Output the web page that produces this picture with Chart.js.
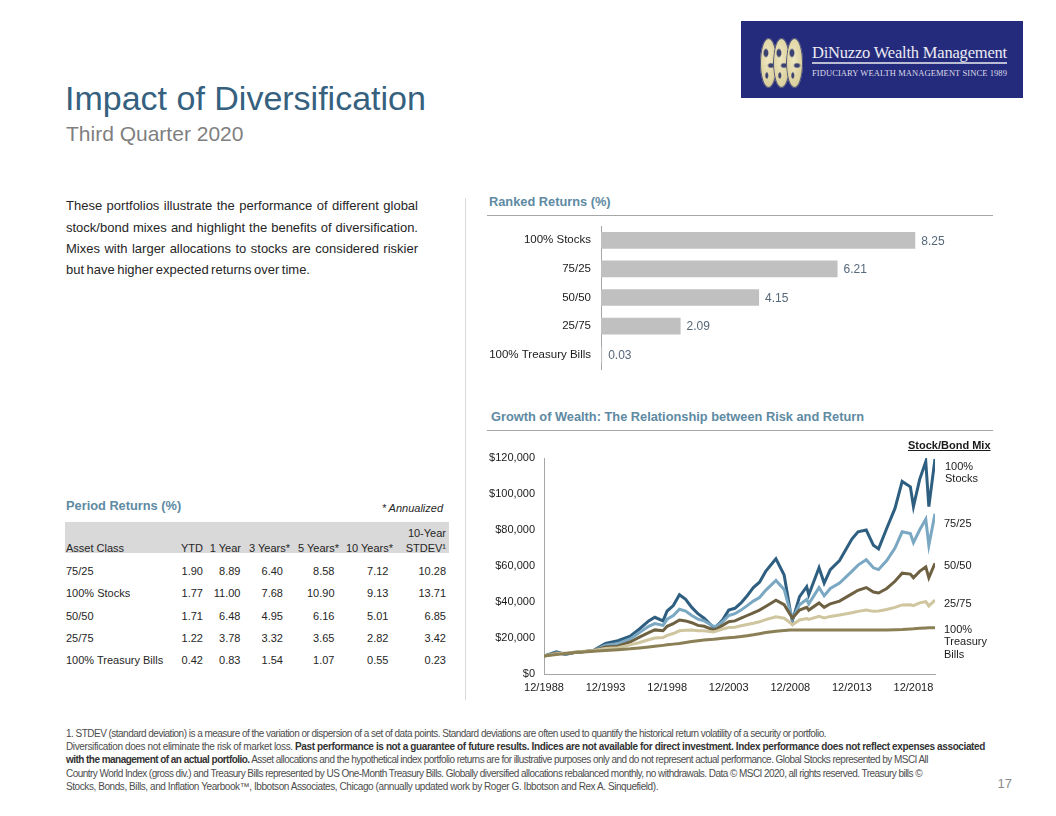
<!DOCTYPE html>
<html><head><meta charset="utf-8">
<script src="https://cdn.jsdelivr.net/npm/chart.js@4.4.1/dist/chart.umd.min.js"></script>
<style>
html,body{margin:0;padding:0;background:#fff;}
body{width:1056px;height:816px;position:relative;overflow:hidden;font-family:"Liberation Sans",Arial,sans-serif;color:#262626;}
.abs{position:absolute;white-space:nowrap;}
.hdr{font-weight:bold;font-size:12.8px;line-height:16px;color:#5e8aa3;}
.rule{position:absolute;height:1px;background:#a6a6a6;}
.tcell{position:absolute;white-space:nowrap;font-size:11px;line-height:14px;color:#262626;}
.glabel{position:absolute;white-space:nowrap;font-size:11px;line-height:12.7px;color:#1a1a1a;}
.globe{position:absolute;top:38px;width:17px;height:50px;border-radius:50%;
 background:
  radial-gradient(ellipse 3px 5px at 35% 30%,#3b4170 0,#3b4170 60%,transparent 100%),
  radial-gradient(ellipse 4px 3px at 65% 55%,#3b4170 0,#3b4170 50%,transparent 100%),
  radial-gradient(ellipse 2px 4px at 40% 75%,#3b4170 0,#3b4170 50%,transparent 100%),
  radial-gradient(ellipse at 45% 40%,#efe7c0 0%,#ddd2a0 60%,#b9ae82 100%);
 box-shadow:inset 0 0 0 1px #4a4f7a;}
.fn{position:absolute;white-space:nowrap;font-size:10px;line-height:13.25px;color:#4d4d4d;}
.fn b{color:#333;}
</style></head><body>

<!-- logo -->
<div class="abs" style="left:741px;top:21px;width:282px;height:77px;background:#252b7c;"></div>
<div class="globe" style="left:760px;"></div>
<div class="globe" style="left:773px;"></div>
<div class="globe" style="left:786px;"></div>
<div id="logoT" class="abs" style="left:812px;top:43px;font-family:'Liberation Serif',serif;font-size:16.5px;line-height:20px;color:#ecebf3;">DiNuzzo Wealth Management</div>
<div class="abs" style="left:812px;top:62px;width:195px;height:2px;background:#b9bcd3;"></div>
<div id="logoS" class="abs" style="left:812px;top:68px;font-family:'Liberation Serif',serif;font-size:8.5px;line-height:10px;color:#dcdcea;">FIDUCIARY WEALTH MANAGEMENT SINCE 1989</div>

<!-- titles -->
<div class="abs" style="left:65px;top:81px;font-size:34px;line-height:34px;color:#35617f;">Impact of Diversification</div>
<div class="abs" style="left:66px;top:123px;font-size:21px;line-height:21px;color:#7f7f7f;">Third Quarter 2020</div>

<!-- paragraph -->
<div id="p1" class="abs" style="left:66px;top:195.4px;font-size:13px;line-height:21.2px;">These portfolios illustrate the performance of different global</div>
<div id="p2" class="abs" style="left:66px;top:216.6px;font-size:13px;line-height:21.2px;">stock/bond mixes and highlight the benefits of diversification.</div>
<div id="p3" class="abs" style="left:66px;top:237.8px;font-size:13px;line-height:21.2px;">Mixes with larger allocations to stocks are considered riskier</div>
<div id="p4" class="abs" style="left:66px;top:259px;font-size:13px;line-height:21.2px;">but have higher expected returns over time.</div>

<!-- divider -->
<div class="abs" style="left:465px;top:198px;width:1px;height:502px;background:#d9d9d9;"></div>

<!-- ranked returns -->
<div class="abs hdr" style="left:489px;top:193.7px;">Ranked Returns (%)</div>
<div class="rule" style="left:487px;top:215px;width:506px;"></div>
<canvas id="bar" width="533" height="177" style="position:absolute;left:487px;top:209px;width:533px;height:177px;"></canvas>

<!-- growth -->
<div class="abs hdr" style="left:491px;top:408.7px;">Growth of Wealth: The Relationship between Risk and Return</div>
<div class="rule" style="left:487px;top:430px;width:506px;"></div>
<canvas id="growth" width="470" height="260" style="position:absolute;left:487px;top:440px;width:470px;height:260px;"></canvas>
<div class="glabel" style="left:908px;top:438.5px;font-weight:bold;text-decoration:underline;">Stock/Bond Mix</div>
<div class="glabel" style="left:945px;top:459.5px;">100%<br>Stocks</div>
<div class="glabel" style="left:944px;top:516.5px;">75/25</div>
<div class="glabel" style="left:944px;top:558.5px;">50/50</div>
<div class="glabel" style="left:944px;top:596.5px;">25/75</div>
<div class="glabel" style="left:944px;top:622.5px;">100%<br>Treasury<br>Bills</div>

<!-- period returns -->
<div class="abs hdr" style="left:66px;top:498px;">Period Returns (%)</div>
<div class="abs" style="right:613px;top:500.7px;font-size:11px;line-height:14px;font-style:italic;color:#262626;">* Annualized</div>
<div class="abs" style="left:65px;top:522px;width:384px;height:31px;background:#d9d9d9;"></div>
<div id="table"></div>

<!-- footnotes -->
<div id="f1" class="fn" style="left:66px;top:726.8px;">1. STDEV (standard deviation) is a measure of the variation or dispersion of a set of data points. Standard deviations are often used to quantify the historical return volatility of a security or portfolio.</div>
<div id="f2" class="fn" style="left:66px;top:740.05px;">Diversification does not eliminate the risk of market loss. <b>Past performance is not a guarantee of future results. Indices are not available for direct investment. Index performance does not reflect expenses associated</b></div>
<div id="f3" class="fn" style="left:66px;top:753.3px;"><b>with the management of an actual portfolio.</b> Asset allocations and the hypothetical index portfolio returns are for illustrative purposes only and do not represent actual performance. Global Stocks represented by MSCI All</div>
<div id="f4" class="fn" style="left:66px;top:766.55px;">Country World Index (gross div.) and Treasury Bills represented by US One-Month Treasury Bills. Globally diversified allocations rebalanced monthly, no withdrawals. Data © MSCI 2020, all rights reserved. Treasury bills ©</div>
<div id="f5" class="fn" style="left:66px;top:779.8px;">Stocks, Bonds, Bills, and Inflation Yearbook™, Ibbotson Associates, Chicago (annually updated work by Roger G. Ibbotson and Rex A. Sinquefield).</div>
<div class="abs" style="right:44px;top:775.8px;font-size:13px;line-height:15px;color:#8c8c8c;">17</div>

<script>
// ---------- data ----------
const rankedLabels = ['100% Stocks', '75/25', '50/50', '25/75', '100% Treasury Bills'];
const rankedValues = [8.25, 6.21, 4.15, 2.09, 0.03];

const tableHeaders = ['Asset Class', 'YTD', '1 Year', '3 Years*', '5 Years*', '10 Years*', 'STDEV¹'];
const assetClasses = ['75/25', '100% Stocks', '50/50', '25/75', '100% Treasury Bills'];
const ytd        = [1.90, 1.77, 1.71, 1.22, 0.42];
const oneYear    = [8.89, 11.00, 6.48, 3.78, 0.83];
const threeYears = [6.40, 7.68, 4.95, 3.32, 1.54];
const fiveYears  = [8.58, 10.90, 6.16, 3.65, 1.07];
const tenYears   = [7.12, 9.13, 5.01, 2.82, 0.55];
const stdev10    = [10.28, 13.71, 6.85, 3.42, 0.23];

const growthDates = ['12/1988','12/1989','9/1990','6/1991','6/1992','12/1992','12/1993','12/1994','12/1995','9/1996',
  '6/1997','12/1997','8/1998','12/1998','6/1999','12/1999','6/2000','12/2000','6/2001','12/2001',
  '9/2002','12/2002','6/2003','12/2003','6/2004','12/2004','6/2005','12/2005','6/2006','12/2006',
  '10/2007','6/2008','12/2008','2/2009','9/2009','4/2010','6/2010','4/2011','9/2011','3/2012',
  '12/2012','12/2013','6/2014','2/2015','9/2015','2/2016','10/2016','6/2017','1/2018','9/2018',
  '12/2018','6/2019','12/2019','3/2020','9/2020'];
const stocks100 = [10000,12300,10800,12000,12600,13000,17000,18500,21000,25000,
  29500,31500,29500,35000,38000,44000,41500,37000,33500,31000,
  26000,26500,30000,35500,36500,39500,43500,48000,51000,57000,
  64000,55000,35000,29500,43000,48500,44000,59000,50500,58000,
  63000,75000,79000,80000,71500,69500,81000,92000,107000,104000,
  93000,108000,118000,93000,119500];
const mix7525 = [10000,11800,11000,12000,12600,12900,16000,16800,19500,23000,
  26500,28000,27000,30500,32500,36000,35000,32500,30500,29500,
  26500,26500,29000,32500,33500,35500,38000,40500,42500,46500,
  52000,47000,34500,30500,38500,41500,39000,48000,43500,47500,
  50500,57000,60500,63500,59000,58000,63000,70000,79000,78000,
  73000,80000,86000,71500,89000];
const mix5050 = [10000,11500,11300,12000,12700,13000,15000,15400,17800,20500,
  23000,24500,24000,26500,28000,30000,29500,28500,27000,26500,
  24500,25000,27000,29000,29500,31000,32500,34000,35500,37500,
  41000,38500,33000,31000,35500,37000,35500,39500,37000,39000,
  40500,44500,46500,48000,45500,45000,47500,51500,56000,55500,
  53500,57000,59500,53500,61500];
const mix2575 = [10000,11200,11600,12200,12800,13000,14200,14600,16200,17500,
  19000,20000,20300,21500,22500,24000,24300,24500,24000,24000,
  23300,23800,25000,25800,26000,26800,27500,28200,29000,30200,
  31800,31000,28500,27300,30000,30800,30300,32000,31200,32000,
  32800,34000,34800,35500,34800,35000,35800,37000,38400,38500,
  38000,39500,40200,37800,41000];
const tbills100 = [10000,10800,11400,11900,12400,12600,13000,13500,14000,14500,
  15000,15400,15900,16200,16600,17000,17500,18000,18500,18900,
  19300,19500,19800,20100,20400,20800,21300,21800,22400,23000,
  23800,24200,24400,24400,24400,24400,24400,24400,24400,24400,
  24400,24400,24400,24400,24400,24400,24500,24600,24700,25000,
  25100,25400,25600,25700,25700];
const xTickLabels = ['12/1988','12/1993','12/1998','12/2003','12/2008','12/2013','12/2018'];
const yTickMax = 120000, yTickStep = 20000;

// ---------- helpers ----------
const FONT = '"Liberation Sans", Arial, sans-serif';
Chart.defaults.font.family = FONT;
function toYear(s){ const [m,y] = s.split('/').map(Number); return y + (m-1)/12; }
function fit(id, target, mode){
  const el = document.getElementById(id);
  const w = el.getBoundingClientRect().width;
  const txt = el.textContent;
  if(mode === 'word'){
    const n = (txt.match(/ /g)||[]).length;
    if(n) el.style.wordSpacing = ((target - w)/n) + 'px';
  } else {
    el.style.letterSpacing = ((target - w)/txt.length) + 'px';
  }
}

// ---------- table ----------
(function(){
  const t = document.getElementById('table');
  const hdrRight = [null, 203, 241, 290, 339, 393, 446];
  const valRight = [null, 203, 240.5, 283, 334.5, 388.5, 446];
  const rowCenters = [571, 593, 615.5, 638, 660];
  const cols = [ytd, oneYear, threeYears, fiveYears, tenYears, stdev10];
  let html = '';
  html += `<div class="tcell" style="left:66px;top:540.7px;">${tableHeaders[0]}</div>`;
  for(let c=1;c<tableHeaders.length;c++){
    html += `<div class="tcell" style="right:${1056-hdrRight[c]}px;top:540.7px;">${tableHeaders[c]}</div>`;
  }
  html += `<div class="tcell" style="right:${1056-hdrRight[6]}px;top:526.3px;">10-Year</div>`;
  assetClasses.forEach((name,r)=>{
    const top = rowCenters[r] - 7;
    html += `<div class="tcell" style="left:66px;top:${top}px;">${name}</div>`;
    cols.forEach((arr,c)=>{
      html += `<div class="tcell" style="right:${1056-valRight[c+1]}px;top:${top}px;">${arr[r].toFixed(2)}</div>`;
    });
  });
  t.innerHTML = html;
})();

// ---------- text fitting ----------
fit('p1', 352, 'word'); fit('p2', 352, 'word'); fit('p3', 352, 'word'); fit('p4', 244, 'word');
fit('f1', 760, 'letter'); fit('f2', 919, 'letter'); fit('f3', 862, 'letter'); fit('f4', 856, 'letter'); fit('f5', 592, 'letter');
fit('logoT', 195, 'letter'); fit('logoS', 195, 'letter');

// ---------- bar chart ----------
const barValuePlugin = {
  id: 'barValues',
  afterDatasetsDraw(chart){
    const ctx = chart.ctx, meta = chart.getDatasetMeta(0), vals = chart.data.datasets[0].data;
    ctx.save();
    ctx.font = '12px ' + FONT; ctx.fillStyle = '#56687a';
    ctx.textBaseline = 'middle'; ctx.textAlign = 'left';
    meta.data.forEach((bar,i)=>{ ctx.fillText(vals[i].toFixed(2), bar.x + 6, bar.y + 1); });
    ctx.restore();
  }
};
new Chart(document.getElementById('bar'), {
  type: 'bar',
  data: { labels: rankedLabels, datasets: [{ data: rankedValues, backgroundColor: '#c0c0c0', barPercentage: 0.585, categoryPercentage: 1 }] },
  options: {
    indexAxis: 'y', responsive: false, animation: false,
    layout: { padding: { top: 17, bottom: 17, left: 0, right: 0 } },
    plugins: { legend: { display: false }, tooltip: { enabled: false } },
    scales: {
      x: { display: false, min: 0, max: 11 },
      y: {
        grid: { display: false, drawTicks: false },
        border: { display: true, color: '#a6a6a6', width: 1 },
        ticks: { color: '#1a1a1a', font: { size: 11.5 }, padding: 10 },
        afterFit(s){ s.width = 114; }
      }
    }
  },
  plugins: [barValuePlugin]
});

// ---------- growth chart ----------
const xs = growthDates.map(toYear);
const pts = arr => arr.map((v,i)=>({x: xs[i], y: v}));
const series = [
  { label: '100% Treasury Bills', data: pts(tbills100), color: '#8a7f55' },
  { label: '25/75', data: pts(mix2575), color: '#cfc59e' },
  { label: '50/50', data: pts(mix5050), color: '#6e6142' },
  { label: '75/25', data: pts(mix7525), color: '#7aa7c2' },
  { label: '100% Stocks', data: pts(stocks100), color: '#2f5f80' }
];
new Chart(document.getElementById('growth'), {
  type: 'line',
  data: { datasets: series.map(s=>({ label: s.label, data: s.data, borderColor: s.color, backgroundColor: s.color,
    borderWidth: 3, pointRadius: 0, tension: 0, fill: false })) },
  options: {
    responsive: false, animation: false,
    layout: { padding: { top: 18, right: 22, left: 0, bottom: 0 } },
    plugins: { legend: { display: false }, tooltip: { enabled: false } },
    scales: {
      x: {
        type: 'linear', min: xs[0], max: xs[xs.length-1],
        grid: { display: false, drawTicks: false },
        border: { display: true, color: '#a6a6a6', width: 1 },
        afterBuildTicks(s){ s.ticks = xTickLabels.map(l=>({ value: toYear(l) })); },
        ticks: { color: '#1a1a1a', font: { size: 11 }, padding: 7, autoSkip: false, maxRotation: 0,
          callback: (v, i) => xTickLabels[i] },
        afterFit(s){ s.height = 26; }
      },
      y: {
        min: 0, max: yTickMax,
        grid: { display: false, drawTicks: false },
        border: { display: true, color: '#a6a6a6', width: 1 },
        ticks: { stepSize: yTickStep, color: '#1a1a1a', font: { size: 11 }, padding: 9,
          callback: v => '$' + Number(v).toLocaleString('en-US') },
        afterFit(s){ s.width = 57; }
      }
    }
  }
});
</script>
</body></html>
